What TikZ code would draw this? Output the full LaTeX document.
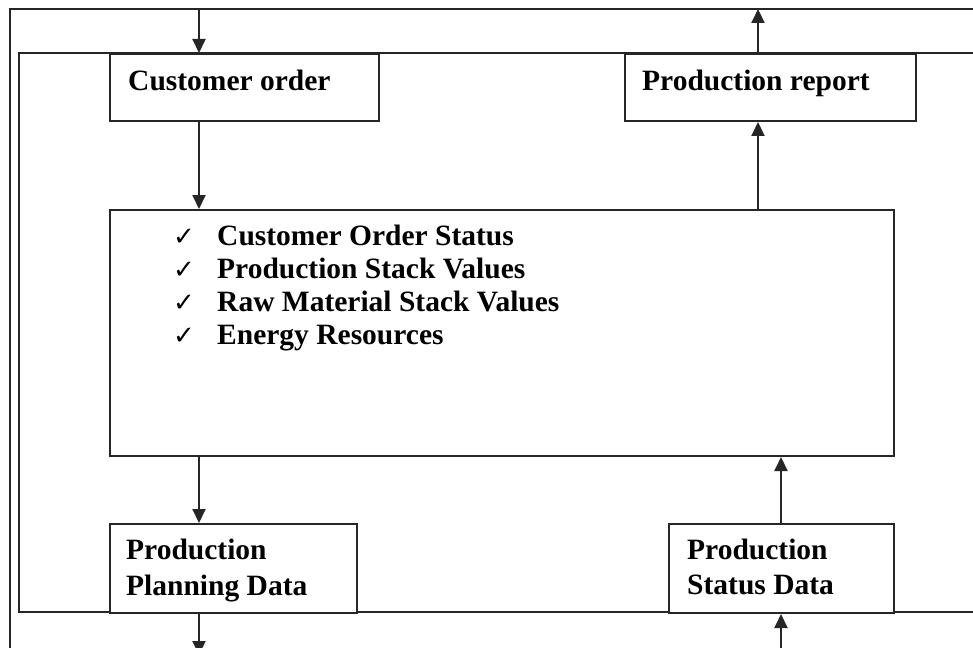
\documentclass[tikz,border=0pt]{standalone}
\usepackage{fontspec}
\setmainfont{Liberation Serif}
\newfontfamily\symfont{DejaVu Sans}
\usetikzlibrary{arrows.meta}
\begin{document}
\begin{tikzpicture}[x=1pt,y=-1pt,
  frame/.style={line width=2pt,draw=black!85},
  box/.style={frame,rectangle,inner sep=0pt,anchor=north west,fill=white},
  conn/.style={line width=2pt,draw=black!85,-{Triangle[length=14pt,width=13pt]}},
  txt/.style={inner sep=0pt,font=\fontsize{29.5}{36}\selectfont\bfseries,align=left},
  chk/.style={inner sep=0pt,anchor=base west,font=\symfont\fontsize{26}{26}\selectfont}]
\useasboundingbox (0,0) rectangle (973,647);
\clip (0,0) rectangle (973,647);
\fill[white] (0,0) rectangle (973,647);
% outer frame (only its top and left show)
\draw[frame] (10,700) -- (10,9) -- (1000,9);
% inner frame
\draw[frame] (1000,53) -- (19,53) -- (19,612) -- (1000,612);
% free ends
\coordinate (tin) at (199,9);
\coordinate (tout) at (758,9);
\coordinate (bout) at (199,655);
\coordinate (bin) at (781,660);
% boxes
\node[box,minimum width=269pt,minimum height=67pt] (co) at (109,53) {};
\node[box,minimum width=291pt,minimum height=67pt] (pr) at (624,53) {};
\node[box,minimum width=784pt,minimum height=246pt] (main) at (109,209) {};
\node[box,minimum width=247pt,minimum height=89pt] (ppd) at (109,523) {};
\node[box,minimum width=225pt,minimum height=89pt] (psd) at (668,523) {};
% texts
\node[txt,anchor=base west] (cot) at (128,91) {Customer order};
\node[txt,anchor=base west] (prt) at (642,91) {Production report};
\node[txt,anchor=base west] (l1) at (217,245) {Customer Order Status};
\node[txt,anchor=base west] (l2) at (217,278) {Production Stack Values};
\node[txt,anchor=base west] (l3) at (217,311) {Raw Material Stack Values};
\node[txt,anchor=base west] (l4) at (217,344) {Energy Resources};
\node[chk] (c1) at (173,245) {✓};
\node[chk] (c2) at (173,278) {✓};
\node[chk] (c3) at (173,311) {✓};
\node[chk] (c4) at (173,344) {✓};
\node[txt,anchor=base west] (ppdt1) at (126,559) {Production};
\node[txt,anchor=base west] (ppdt2) at (126,595) {Planning Data};
\node[txt,anchor=base west] (psdt1) at (687,559) {Production};
\node[txt,anchor=base west] (psdt2) at (687,594) {Status Data};
% connectors
\draw[conn] (tin) -- (co.north -| tin);
\draw[conn] (co.south -| tin) -- (main.north -| tin);
\draw[conn] (main.north -| tout) -- (pr.south -| tout);
\draw[conn] (pr.north -| tout) -- (tout);
\draw[conn] (main.south -| tin) -- (ppd.north -| tin);
\draw[conn] (psd.north -| bin) -- (main.south -| bin);
\draw[conn] (ppd.south -| bout) -- (bout);
\draw[conn] (bin) -- (psd.south -| bin);
\end{tikzpicture}
\end{document}
